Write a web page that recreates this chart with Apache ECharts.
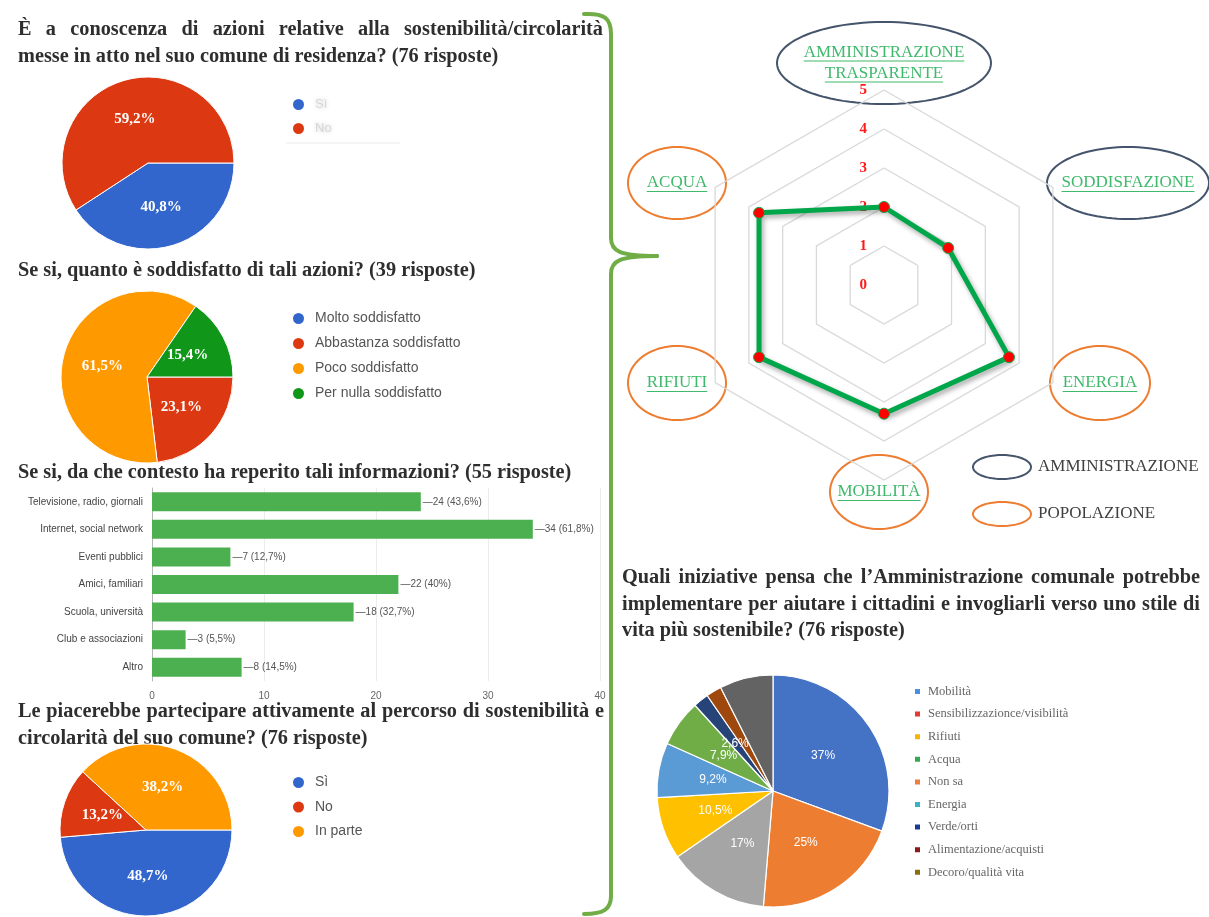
<!DOCTYPE html>
<html>
<head>
<meta charset="utf-8">
<script src="https://cdn.jsdelivr.net/npm/echarts@6/dist/echarts.min.js"></script>
<style>
  html, body { margin: 0; padding: 0; background: #fff; }
  #c { width: 1209px; height: 917px; }
</style>
</head>
<body>
<div id="c"></div>
<script>
// ---- survey answers ----
const awareCats = ['Sì', 'No'];
const awareVals = [40.8, 59.2];

const satisCats = ['Molto soddisfatto', 'Abbastanza soddisfatto', 'Poco soddisfatto', 'Per nulla soddisfatto'];
const satisVals = [0, 23.1, 61.5, 15.4];

const sourceCats = ['Televisione, radio, giornali', 'Internet, social network', 'Eventi pubblici',
  'Amici, familiari', 'Scuola, università', 'Club e associazioni', 'Altro'];
const sourceVals = [24, 34, 7, 22, 18, 3, 8];
const sourceTotal = 55;
const sourceTicks = [0, 10, 20, 30, 40];

const joinCats = ['Sì', 'No', 'In parte'];
const joinVals = [48.7, 13.2, 38.2];

const radarAxes = ['AMMINISTRAZIONE\nTRASPARENTE', 'ACQUA', 'RIFIUTI', 'MOBILITÀ', 'ENERGIA', 'SODDISFAZIONE'];
const radarOwner = ['AMMINISTRAZIONE', 'POPOLAZIONE', 'POPOLAZIONE', 'POPOLAZIONE', 'POPOLAZIONE', 'AMMINISTRAZIONE'];
const radarVals = [2, 3.7, 3.7, 3.3, 3.7, 1.9];
const radarTicks = [0, 1, 2, 3, 4, 5];
const radarKey = ['AMMINISTRAZIONE', 'POPOLAZIONE'];

const initCats = ['Mobilità', 'Sensibilizzazionce/visibilità', 'Rifiuti', 'Acqua', 'Non sa', 'Energia',
  'Verde/orti', 'Alimentazione/acquisti', 'Decoro/qualità vita'];
const initVals = [37, 25, 17, 10.5, 9.2, 7.9, 2.6, 2.6, 9];
const initShowLabel = [true, true, true, true, true, true, true, false, false];

// question headings, one entry per printed line
const headingLines = [
  'È a conoscenza di azioni relative alla sostenibilità/circolarità',
  'messe in atto nel suo comune di residenza? (76 risposte)',
  'Se si, quanto è soddisfatto di tali azioni? (39 risposte)',
  'Se si, da che contesto ha reperito tali informazioni? (55 risposte)',
  'Le piacerebbe partecipare attivamente al percorso di sostenibilità e',
  'circolarità del suo comune? (76 risposte)',
  'Quali iniziative pensa che l\u2019Amministrazione comunale potrebbe',
  'implementare per aiutare i cittadini e invogliarli verso uno stile di',
  'vita più sostenibile? (76 risposte)'
];

// ---- styles ----
const SERIF = '"Liberation Serif", "DejaVu Serif", serif';
const SANS = '"Liberation Sans", Arial, sans-serif';
const G_BLUE = '#3366cc', G_RED = '#dc3912', G_ORANGE = '#ff9900', G_GREEN = '#109618';
const awareColors = [G_BLUE, G_RED];
const satisColors = [G_BLUE, G_RED, G_ORANGE, G_GREEN];
const joinColors = [G_BLUE, G_RED, G_ORANGE];
const initColors = ['#4472c4', '#ed7d31', '#a5a5a5', '#ffc000', '#5b9bd5', '#70ad47', '#264478', '#9e480e', '#636363'];
const initKeyColors = ['#4a8fe2', '#e53935', '#f4b400', '#34a853', '#f07b3a', '#39b3c4', '#1c3a94', '#8b1a1a', '#8a6d12'];
const ownerColors = { AMMINISTRAZIONE: '#44546a', POPOLAZIONE: '#ed7d31' };
const LABEL_GREEN = '#3fb96b';
const BRACKET = '#70ad47';
const HEAD_SIZE = 20.3;
const HEAD_FONT = 'bold ' + HEAD_SIZE + 'px ' + SERIF;

const pct = v => String(v).replace('.', ',') + '%';
const share = v => {
  const p = Math.round(v / sourceTotal * 1000) / 10;
  return String(p).replace('.', ',') + '%';
};

// ---- layout ----
const RC = [884, 285];       // radar centre
const RR = 195;              // radar radius
// label bubble for each radar axis: offset from centre, ellipse radii
const radarBubbles = [
  { dx: 0, dy: -222, rx: 107, ry: 41 },
  { dx: -207, dy: -102, rx: 49, ry: 36 },
  { dx: -207, dy: 98, rx: 49, ry: 37 },
  { dx: -5, dy: 207, rx: 49, ry: 37 },
  { dx: 216, dy: 98, rx: 50, ry: 37 },
  { dx: 244, dy: -102, rx: 81, ry: 36 }
];
// heading line placement: left x, centre y, right x when the line is justified
const headingPlace = [
  [18, 30, 603], [18, 57], [18, 271], [18, 473],
  [18, 712, 604], [18, 739],
  [622, 578, 1200], [622, 605, 1200], [622, 631]
];

const measure = (() => {
  const ctx = document.createElement('canvas').getContext('2d');
  return (txt, font) => { ctx.font = font; return ctx.measureText(txt).width; };
})();

// closed outline of an ellipse as a polygon
function ellipse(cx, cy, rx, ry, color) {
  const pts = [];
  for (let k = 0; k < 96; k++) {
    const a = k / 96 * Math.PI * 2;
    pts.push([cx + rx * Math.cos(a), cy + ry * Math.sin(a)]);
  }
  return { type: 'polygon', shape: { points: pts }, style: { fill: 'none', stroke: color, lineWidth: 2 } };
}

const graphics = [];

// headings, justified lines spread word by word
const headStyle = { fill: '#2e2e2e', fontSize: HEAD_SIZE, fontFamily: SERIF, fontWeight: 'bold', verticalAlign: 'middle' };
headingLines.forEach((line, i) => {
  const [x0, y, x1] = headingPlace[i];
  if (!x1) {
    graphics.push({ type: 'text', x: x0, y: y, style: Object.assign({ text: line }, headStyle) });
    return;
  }
  const words = line.split(' ');
  const widths = words.map(w => measure(w, HEAD_FONT));
  const total = widths.reduce((a, b) => a + b, 0);
  const gap = (x1 - x0 - total) / (words.length - 1);
  let x = x0;
  words.forEach((w, k) => {
    graphics.push({ type: 'text', x: x, y: y, style: Object.assign({ text: w }, headStyle) });
    x += widths[k] + gap;
  });
});

// curly bracket linking the left panel to the radar
const bStyle = { fill: 'none', stroke: BRACKET, lineWidth: 4, lineCap: 'round' };
const bez = (x1, y1, c1x, c1y, c2x, c2y, x2, y2) => ({
  type: 'bezierCurve',
  shape: { x1: x1, y1: y1, cpx1: c1x, cpy1: c1y, cpx2: c2x, cpy2: c2y, x2: x2, y2: y2 },
  style: bStyle
});
const seg = (x1, y1, x2, y2) => ({ type: 'line', shape: { x1: x1, y1: y1, x2: x2, y2: y2 }, style: bStyle });
graphics.push(
  bez(584, 14, 604, 13, 611, 18, 611, 34),
  seg(611, 34, 611, 238),
  bez(611, 238, 611, 251, 619, 256, 657, 256),
  bez(657, 256, 619, 256, 611, 261, 611, 274),
  seg(611, 274, 611, 896),
  bez(611, 896, 611, 909, 604, 914, 584, 914)
);

// faint rule under the first legend
graphics.push({ type: 'line', shape: { x1: 286, y1: 143, x2: 400, y2: 143 }, style: { stroke: '#ececec', lineWidth: 1 } });

// radar axis names in ellipses, underlined
const nameFont = 17;
radarAxes.forEach((name, i) => {
  const b = radarBubbles[i];
  const cx = RC[0] + b.dx, cy = RC[1] + b.dy;
  graphics.push(ellipse(cx, cy, b.rx, b.ry, ownerColors[radarOwner[i]]));
  const lines = name.split('\n');
  const lh = 21;
  lines.forEach((ln, k) => {
    const y = cy + (k - (lines.length - 1) / 2) * lh;
    graphics.push({
      type: 'text',
      x: cx, y: y,
      style: {
        text: ln, fill: LABEL_GREEN, fontSize: nameFont, fontFamily: SERIF,
        align: 'center', verticalAlign: 'middle'
      }
    });
    const w = measure(ln, nameFont + 'px ' + SERIF);
    graphics.push({
      type: 'line',
      shape: { x1: cx - w / 2, y1: y + 8.5, x2: cx + w / 2, y2: y + 8.5 },
      style: { stroke: LABEL_GREEN, lineWidth: 1 }
    });
  });
});

// key for the ellipse colours
radarKey.forEach((k, i) => {
  const y = 467 + i * 47;
  graphics.push(ellipse(1002, y, 29, 12, ownerColors[k]));
  graphics.push({
    type: 'text', x: 1038, y: y,
    style: { text: k, fill: '#404040', fontSize: 17, fontFamily: SERIF, verticalAlign: 'middle' }
  });
});

const googlePie = (name, center, cats, vals, colors) => ({
  type: 'pie',
  name: name,
  center: center,
  radius: 86,
  startAngle: 0,
  clockwise: true,
  avoidLabelOverlap: false,
  itemStyle: { borderColor: '#fff', borderWidth: 1 },
  label: {
    show: true, position: 'inside',
    formatter: p => (p.value > 0 ? pct(p.value) : ''),
    color: '#fff', fontFamily: SERIF, fontWeight: 'bold', fontSize: 15
  },
  labelLine: { show: false },
  emphasis: { disabled: true },
  data: cats.map((c, i) => ({ name: c, value: vals[i], itemStyle: { color: colors[i] } }))
});

const googleLegend = (top, cats, gap, blurred) => ({
  orient: 'vertical', left: 291, top: top, padding: 0,
  data: cats,
  icon: 'circle', itemWidth: 13, itemHeight: 13, itemGap: gap,
  selectedMode: false,
  textStyle: blurred
    ? { fontFamily: SANS, fontSize: 13, color: 'rgba(150,150,150,0.3)', padding: [0, 0, 0, 5],
        textShadowColor: 'rgba(90,90,90,0.9)', textShadowBlur: 4 }
    : { fontFamily: SANS, fontSize: 14, color: '#555', padding: [0, 0, 0, 5] }
});

const option = {
  backgroundColor: '#fff',
  animation: false,
  legend: [
    googleLegend(97, awareCats, 9, true),
    googleLegend(311, satisCats, 10, false),
    googleLegend(775, joinCats, 9.5, false),
    {
      orient: 'vertical', left: 913, top: 685, padding: 0,
      data: initCats.map((c, i) => ({ name: c, itemStyle: { color: initKeyColors[i] } })),
      icon: 'rect', itemWidth: 7, itemHeight: 7, itemGap: 9.6,
      selectedMode: false,
      textStyle: { fontFamily: SERIF, fontSize: 12.5, color: '#666', padding: [0, 0, 0, 2] }
    }
  ],
  grid: [
    { left: 152, top: 488, width: 448, height: 193 },
    { left: RC[0], top: RC[1] - RR, width: 1, height: RR }
  ],
  xAxis: [
    {
      gridIndex: 0, type: 'value', min: sourceTicks[0], max: sourceTicks[sourceTicks.length - 1],
      interval: sourceTicks[1] - sourceTicks[0],
      axisLine: { show: false }, axisTick: { show: false },
      axisLabel: { fontFamily: SANS, fontSize: 10, color: '#666', margin: 10 },
      splitLine: { lineStyle: { color: '#ececec' } }
    },
    { gridIndex: 1, type: 'value', show: false }
  ],
  yAxis: [
    {
      gridIndex: 0, type: 'category', inverse: true, data: sourceCats,
      axisLine: { lineStyle: { color: '#b5b5b5' } }, axisTick: { show: false },
      axisLabel: { fontFamily: SANS, fontSize: 10, color: '#444', margin: 9 }
    },
    {
      gridIndex: 1, type: 'value', min: radarTicks[0], max: radarTicks[radarTicks.length - 1], interval: 1,
      axisLine: { show: false }, axisTick: { show: false }, splitLine: { show: false },
      axisLabel: { color: '#ff1a1a', fontFamily: SERIF, fontWeight: 'bold', fontSize: 15, margin: 17 }
    }
  ],
  radar: {
    center: RC, radius: RR, startAngle: 90, splitNumber: 5, shape: 'polygon',
    indicator: radarAxes.map(n => ({ name: n, min: radarTicks[0], max: radarTicks[radarTicks.length - 1] })),
    axisName: { show: false },
    axisLine: { show: false },
    axisTick: { show: false },
    splitArea: { show: false },
    splitLine: { lineStyle: { color: '#d9d9d9', width: 1.3 } }
  },
  graphic: graphics,
  series: [
    googlePie('aware', [148, 163], awareCats, awareVals, awareColors),
    googlePie('satis', [147, 377], satisCats, satisVals, satisColors),
    googlePie('join', [146, 830], joinCats, joinVals, joinColors),
    {
      type: 'bar', xAxisIndex: 0, yAxisIndex: 0,
      data: sourceVals, barWidth: 19,
      itemStyle: { color: '#4caf50' },
      label: {
        show: true, position: 'right', distance: 2,
        formatter: p => '\u2014' + p.value + ' (' + share(p.value) + ')',
        fontFamily: SANS, fontSize: 10, color: '#555'
      },
      emphasis: { disabled: true }
    },
    {
      type: 'radar',
      symbol: 'circle', symbolSize: 11,
      itemStyle: { color: '#ff0000', borderColor: '#10a84a', borderWidth: 1 },
      lineStyle: { color: '#00a74a', width: 5, shadowColor: 'rgba(0,0,0,0.35)', shadowBlur: 5, shadowOffsetX: 2, shadowOffsetY: 3 },
      emphasis: { disabled: true },
      data: [{ value: radarVals, name: 'valutazione' }]
    },
    {
      type: 'pie',
      name: 'iniziative',
      center: [773, 791], radius: 116,
      startAngle: 90, clockwise: true,
      avoidLabelOverlap: false,
      itemStyle: { borderColor: '#fff', borderWidth: 1.2 },
      label: {
        position: 'inside', color: '#fff', fontFamily: SANS, fontSize: 12,
        formatter: p => pct(p.value)
      },
      labelLine: { show: false },
      emphasis: { disabled: true },
      data: initCats.map((c, i) => ({
        name: c, value: initVals[i],
        itemStyle: { color: initColors[i] },
        label: { show: initShowLabel[i] }
      }))
    }
  ]
};

const chart = echarts.init(document.getElementById('c'), null, { renderer: 'canvas' });
chart.setOption(option);
</script>
</body>
</html>
